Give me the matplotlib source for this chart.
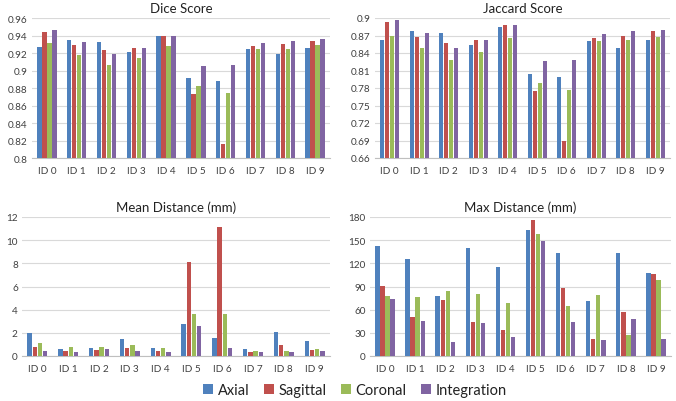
import matplotlib
matplotlib.use("Agg")
import matplotlib.pyplot as plt
import numpy as np

plt.rcParams['font.family'] = ['Lato', 'DejaVu Sans']

categories = ["ID 0", "ID 1", "ID 2", "ID 3", "ID 4", "ID 5", "ID 6", "ID 7", "ID 8", "ID 9"]
series_names = ["Axial", "Sagittal", "Coronal", "Integration"]
colors = ["#4F81BD", "#C0504D", "#9BBB59", "#8064A2"]

dice_axial = [0.927, 0.935, 0.933, 0.921, 0.939, 0.892, 0.888, 0.925, 0.919, 0.926]
dice_sagittal = [0.944, 0.929, 0.924, 0.926, 0.940, 0.873, 0.816, 0.928, 0.930, 0.934]
dice_coronal = [0.931, 0.918, 0.906, 0.914, 0.928, 0.882, 0.874, 0.925, 0.925, 0.929]
dice_integration = [0.946, 0.933, 0.919, 0.926, 0.940, 0.905, 0.906, 0.931, 0.934, 0.936]

jac_axial = [0.863, 0.878, 0.874, 0.853, 0.885, 0.804, 0.799, 0.861, 0.849, 0.862]
jac_sagittal = [0.893, 0.867, 0.858, 0.862, 0.888, 0.775, 0.690, 0.866, 0.869, 0.877]
jac_coronal = [0.870, 0.848, 0.828, 0.841, 0.865, 0.788, 0.776, 0.860, 0.862, 0.867]
jac_integration = [0.897, 0.874, 0.849, 0.862, 0.888, 0.826, 0.828, 0.872, 0.877, 0.879]

mean_axial = [1.97, 0.60, 0.71, 1.43, 0.69, 2.77, 1.54, 0.63, 2.11, 1.31]
mean_sagittal = [0.77, 0.46, 0.51, 0.69, 0.40, 8.11, 11.14, 0.31, 0.94, 0.51]
mean_coronal = [1.11, 0.80, 0.77, 0.94, 0.71, 3.63, 3.63, 0.46, 0.46, 0.63]
mean_integration = [0.43, 0.37, 0.57, 0.46, 0.37, 2.57, 0.69, 0.31, 0.37, 0.40]

max_axial = [142.3, 126, 77.4, 140.5, 115, 163, 134, 71, 133, 108]
max_sagittal = [90.7, 50, 73, 43.8, 33.5, 176, 88.5, 22, 57.6, 106]
max_coronal = [77.4, 76.5, 84.7, 80.4, 69, 158, 64.5, 78.6, 26.6, 99]
max_integration = [74.4, 45, 18, 43, 24.5, 149, 43.8, 20.6, 47.7, 22.3]

panels = [
    ("Dice Score", [dice_axial, dice_sagittal, dice_coronal, dice_integration],
     (0.8, 0.96), np.arange(0.80, 0.961, 0.02), ["0.8", "0.82", "0.84", "0.86", "0.88", "0.9", "0.92", "0.94", "0.96"],
     [32/676, (402-159)/402, 298/676, 140/402]),
    ("Jaccard Score", [jac_axial, jac_sagittal, jac_coronal, jac_integration],
     (0.66, 0.9), np.arange(0.66, 0.901, 0.03), ["0.66", "0.69", "0.72", "0.75", "0.78", "0.81", "0.84", "0.87", "0.9"],
     [375/676, (402-159)/402, 295/676, 140/402]),
    ("Mean Distance (mm)", [mean_axial, mean_sagittal, mean_coronal, mean_integration],
     (0, 12), np.arange(0, 12.1, 2), ["0", "2", "4", "6", "8", "10", "12"],
     [22/676, (402-357)/402, 308/676, 139/402]),
    ("Max Distance (mm)", [max_axial, max_sagittal, max_coronal, max_integration],
     (0, 180), np.arange(0, 181, 30), ["0", "30", "60", "90", "120", "150", "180"],
     [370/676, (402-357)/402, 301/676, 139/402]),
]

fig = plt.figure(figsize=(6.76, 4.02), dpi=100)
x = np.arange(len(categories))
width = 0.145
step = 0.168
handles = None
for title, data, ylim, yticks, ylabels, rect in panels:
    ax = fig.add_axes(rect)
    hs = []
    for i, (vals, c) in enumerate(zip(data, colors)):
        h = ax.bar(x + (i - 1.5) * step, np.array(vals) - ylim[0], width, bottom=ylim[0],
                   color=c, label=series_names[i], zorder=3)
        hs.append(h)
    handles = hs
    ax.set_xlim(-0.5, 9.5)
    ax.set_ylim(*ylim)
    ax.set_yticks(yticks)
    ax.set_yticklabels(ylabels)
    ax.set_xticks(x)
    ax.set_xticklabels(categories)
    ax.tick_params(length=0, labelsize=7.2, colors="#404040", pad=3)
    ax.tick_params(axis='x', pad=6)
    ax.grid(axis='y', color="#D9D9D9", linewidth=0.8, zorder=0)
    for s in ["top", "right", "left"]:
        ax.spines[s].set_visible(False)
    ax.spines["bottom"].set_color("#BFBFBF")
    ax.spines["bottom"].set_linewidth(0.8)
    ax.set_title(title, fontsize=9.5, color="#222222", pad=4)

fig.legend(handles, series_names, loc="center", bbox_to_anchor=(0.525, 0.028), ncol=4,
           frameon=False, fontsize=10.5, handlelength=0.7, handleheight=0.7,
           handletextpad=0.3, columnspacing=1.0, labelcolor="#222222")

fig.savefig("out.png", dpi=100)
